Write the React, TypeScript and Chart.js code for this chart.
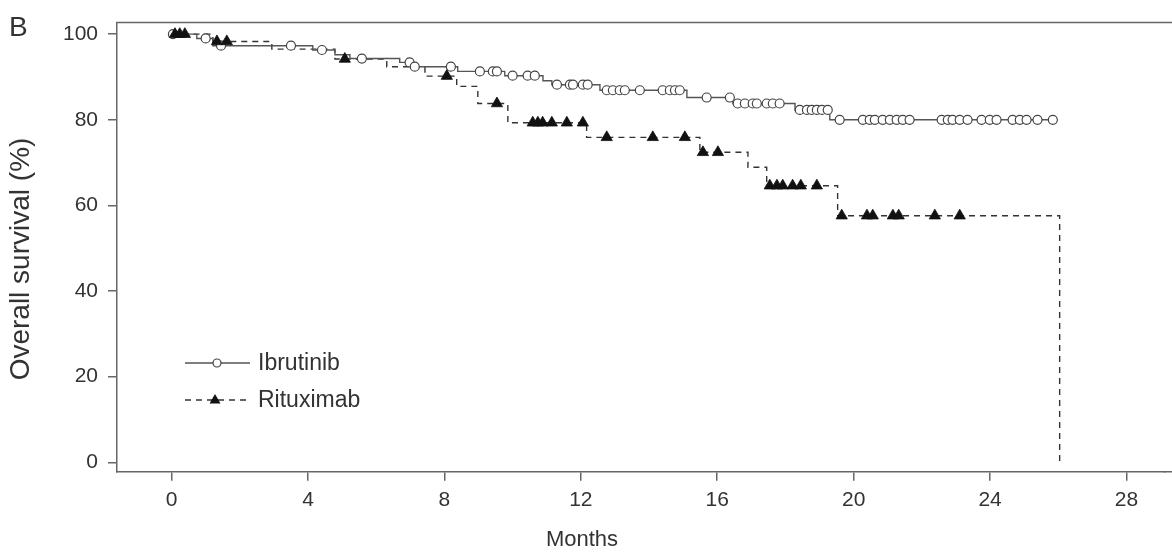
import React, { useEffect, useRef } from "react";
import { Chart, registerables } from "chart.js";

Chart.register(...registerables);

const FONT = "'Liberation Sans', Arial, Helvetica, sans-serif";

const xTickValues = [0, 4, 8, 12, 16, 20, 24, 28];
const yTickValues = [0, 20, 40, 60, 80, 100];

const seriesNames = ["Ibrutinib", "Rituximab"];
const xTitle = "Months";
const yTitle = "Overall survival (%)";
const panelLabel = "B";

// Ibrutinib Kaplan-Meier steps (time in months, survival %)
const ibrStepTimes = [0, 0.74, 1.21, 4.14, 4.79, 5.23, 6.69, 7.07, 8.39, 9.77, 10.89, 11.15, 12.56, 15.11, 16.46, 18.28, 19.3, 25.84];
const ibrStepSurv = [100, 99.0, 97.3, 96.3, 95.2, 94.3, 93.4, 92.4, 91.3, 90.3, 89.1, 88.2, 86.9, 85.2, 83.8, 82.3, 80.0, 80.0];

// Ibrutinib censor marks
const ibrCensorTimes = [
  0.04, 1.0, 1.45, 3.5, 4.41, 5.58, 6.98, 7.13, 8.19,
  9.04, 9.42, 9.54,
  10.0, 10.44, 10.65,
  11.3, 11.68, 11.77, 12.06, 12.2,
  12.76, 12.94, 13.14, 13.29, 13.73, 14.4, 14.61, 14.76, 14.9,
  15.69, 16.37,
  16.6, 16.81, 17.04, 17.16, 17.45, 17.63, 17.83,
  18.42, 18.63, 18.77, 18.92, 19.07, 19.24,
  19.59, 20.27, 20.47, 20.62, 20.85, 21.06, 21.26, 21.44, 21.64, 22.58, 22.76,
  22.9, 23.11, 23.34, 23.75, 23.99, 24.19, 24.66, 24.87, 25.07, 25.39, 25.84,
];
const ibrCensorSurv = [
  100, 99.0, 97.3, 97.3, 96.3, 94.3, 93.4, 92.4, 92.4,
  91.3, 91.3, 91.3,
  90.3, 90.3, 90.3,
  88.2, 88.2, 88.2, 88.2, 88.2,
  86.9, 86.9, 86.9, 86.9, 86.9, 86.9, 86.9, 86.9, 86.9,
  85.2, 85.2,
  83.8, 83.8, 83.8, 83.8, 83.8, 83.8, 83.8,
  82.3, 82.3, 82.3, 82.3, 82.3, 82.3,
  80.0, 80.0, 80.0, 80.0, 80.0, 80.0, 80.0, 80.0, 80.0, 80.0, 80.0,
  80.0, 80.0, 80.0, 80.0, 80.0, 80.0, 80.0, 80.0, 80.0, 80.0, 80.0,
];

// Rituximab Kaplan-Meier steps
const ritStepTimes = [0, 1.21, 2.94, 4.79, 6.31, 7.43, 8.36, 8.98, 9.86, 12.17, 15.49, 16.9, 17.45, 19.53, 26.04];
const ritStepSurv = [100, 98.3, 96.5, 94.2, 92.4, 90.2, 87.8, 83.8, 79.3, 75.9, 72.4, 68.9, 64.6, 57.6, 0];

// Rituximab censor marks
const ritCensorTimes = [
  0.1, 0.24, 0.39, 1.33, 1.62, 5.08, 8.07, 9.54,
  10.59, 10.74, 10.88, 11.15, 11.59, 12.06,
  12.76, 14.11, 15.05,
  15.58, 16.02,
  17.54, 17.75, 17.92, 18.21, 18.45, 18.92,
  19.65, 20.39, 20.56, 21.15, 21.32, 22.38, 23.11,
];
const ritCensorSurv = [
  100, 100, 100, 98.3, 98.3, 94.2, 90.2, 83.8,
  79.3, 79.3, 79.3, 79.3, 79.3, 79.3,
  75.9, 75.9, 75.9,
  72.4, 72.4,
  64.6, 64.6, 64.6, 64.6, 64.6, 64.6,
  57.6, 57.6, 57.6, 57.6, 57.6, 57.6, 57.6,
];

const toPoints = (xs: number[], ys: number[]) => xs.map((x, i) => ({ x, y: ys[i] }));

const TEXT = "#333";
const AXIS = "#666";

const decorPlugin = {
  id: "decor",
  afterDraw(chart: any) {
    const { ctx, chartArea } = chart;
    const W = chart.width;
    ctx.save();
    // top frame line and extension of bottom line to the page edge
    ctx.strokeStyle = AXIS;
    ctx.lineWidth = 1.5;
    ctx.beginPath();
    ctx.moveTo(chartArea.left - 0.75, chartArea.top);
    ctx.lineTo(W, chartArea.top);
    ctx.moveTo(chartArea.right - 1, chartArea.bottom);
    ctx.lineTo(W, chartArea.bottom);
    ctx.stroke();

    ctx.fillStyle = TEXT;
    // panel label
    ctx.font = `28px ${FONT}`;
    ctx.textAlign = "left";
    ctx.textBaseline = "middle";
    ctx.fillText(panelLabel, 9, 28);

    // x title
    ctx.font = `22px ${FONT}`;
    ctx.textAlign = "center";
    ctx.fillText(xTitle, 582, 540);

    // y title
    ctx.save();
    ctx.translate(21, 259);
    ctx.rotate(-Math.PI / 2);
    ctx.font = `28px ${FONT}`;
    ctx.textAlign = "center";
    ctx.textBaseline = "middle";
    ctx.fillText(yTitle, 0, 0);
    ctx.restore();

    // legend
    const ly1 = 363;
    const ly2 = 400;
    ctx.strokeStyle = "#555";
    ctx.lineWidth = 1.3;
    ctx.setLineDash([]);
    ctx.beginPath();
    ctx.moveTo(185, ly1);
    ctx.lineTo(250, ly1);
    ctx.stroke();
    ctx.beginPath();
    ctx.arc(217, ly1, 4, 0, Math.PI * 2);
    ctx.fillStyle = "#fff";
    ctx.fill();
    ctx.strokeStyle = "#444";
    ctx.lineWidth = 1.2;
    ctx.stroke();

    ctx.strokeStyle = "#333";
    ctx.lineWidth = 1.3;
    ctx.setLineDash([6, 5]);
    ctx.beginPath();
    ctx.moveTo(185, ly2);
    ctx.lineTo(246, ly2);
    ctx.stroke();
    ctx.setLineDash([]);
    ctx.fillStyle = "#111";
    ctx.beginPath();
    ctx.moveTo(215, ly2 - 6);
    ctx.lineTo(220.5, ly2 + 3.5);
    ctx.lineTo(209.5, ly2 + 3.5);
    ctx.closePath();
    ctx.fill();

    ctx.fillStyle = TEXT;
    ctx.font = `23px ${FONT}`;
    ctx.textAlign = "left";
    ctx.textBaseline = "middle";
    ctx.fillText(seriesNames[0], 258, ly1 + 1);
    ctx.fillText(seriesNames[1], 258, ly2 + 1);
    ctx.restore();
  },
};

export default function App() {
  const canvasRef = useRef<HTMLCanvasElement | null>(null);

  useEffect(() => {
    const canvas = canvasRef.current;
    if (!canvas) return;
    const chart = new Chart(canvas, {
      type: "scatter",
      data: {
        datasets: [
          {
            type: "scatter",
            label: seriesNames[1] + " censored",
            data: toPoints(ritCensorTimes, ritCensorSurv),
            pointStyle: "triangle",
            pointRadius: 6.5,
            backgroundColor: "#111",
            borderColor: "#111",
            borderWidth: 0.8,
            order: 0,
          },
          {
            type: "scatter",
            label: seriesNames[0] + " censored",
            data: toPoints(ibrCensorTimes, ibrCensorSurv),
            pointStyle: "circle",
            pointRadius: 4.5,
            backgroundColor: "#fff",
            borderColor: "#444",
            borderWidth: 1.2,
            order: 1,
          },
          {
            type: "line",
            label: seriesNames[0],
            data: toPoints(ibrStepTimes, ibrStepSurv),
            stepped: "before",
            borderColor: "#555",
            borderWidth: 1.4,
            pointRadius: 0,
            fill: false,
            order: 2,
          },
          {
            type: "line",
            label: seriesNames[1],
            data: toPoints(ritStepTimes, ritStepSurv),
            stepped: "before",
            borderColor: "#333",
            borderWidth: 1.4,
            borderDash: [6, 5],
            pointRadius: 0,
            fill: false,
            order: 3,
          },
        ],
      } as any,
      options: {
        animation: false,
        responsive: false,
        maintainAspectRatio: false,
        layout: { padding: { top: 21.7, right: 0, left: 0, bottom: 0 } },
        plugins: { legend: { display: false }, tooltip: { enabled: false } },
        scales: {
          x: {
            type: "linear",
            min: -1.6,
            max: 29.12,
            afterFit: (s: any) => {
              s.height = 83.3;
            },
            afterBuildTicks: (s: any) => {
              s.ticks = xTickValues.map((v) => ({ value: v }));
            },
            grid: { drawOnChartArea: false, drawTicks: true, tickLength: 9, color: AXIS, lineWidth: 1.5 },
            border: { display: true, color: AXIS, width: 1.5 },
            ticks: { font: { family: FONT, size: 21 }, color: TEXT, padding: 7, maxRotation: 0, autoSkip: false },
          },
          y: {
            type: "linear",
            min: -2.2,
            max: 102.7,
            afterFit: (s: any) => {
              s.width = 117;
            },
            afterBuildTicks: (s: any) => {
              s.ticks = yTickValues.map((v) => ({ value: v }));
            },
            grid: { drawOnChartArea: false, drawTicks: true, tickLength: 9, color: AXIS, lineWidth: 1.5 },
            border: { display: true, color: AXIS, width: 1.5 },
            ticks: { font: { family: FONT, size: 21 }, color: TEXT, padding: 10, autoSkip: false },
          },
        },
      } as any,
      plugins: [decorPlugin],
    });
    return () => chart.destroy();
  }, []);

  return (
    <div style={{ position: "fixed", left: 0, top: 0, width: 1172, height: 555, background: "#fff" }}>
      <canvas ref={canvasRef} width={1172} height={555} style={{ width: 1172, height: 555, display: "block" }} />
    </div>
  );
}
